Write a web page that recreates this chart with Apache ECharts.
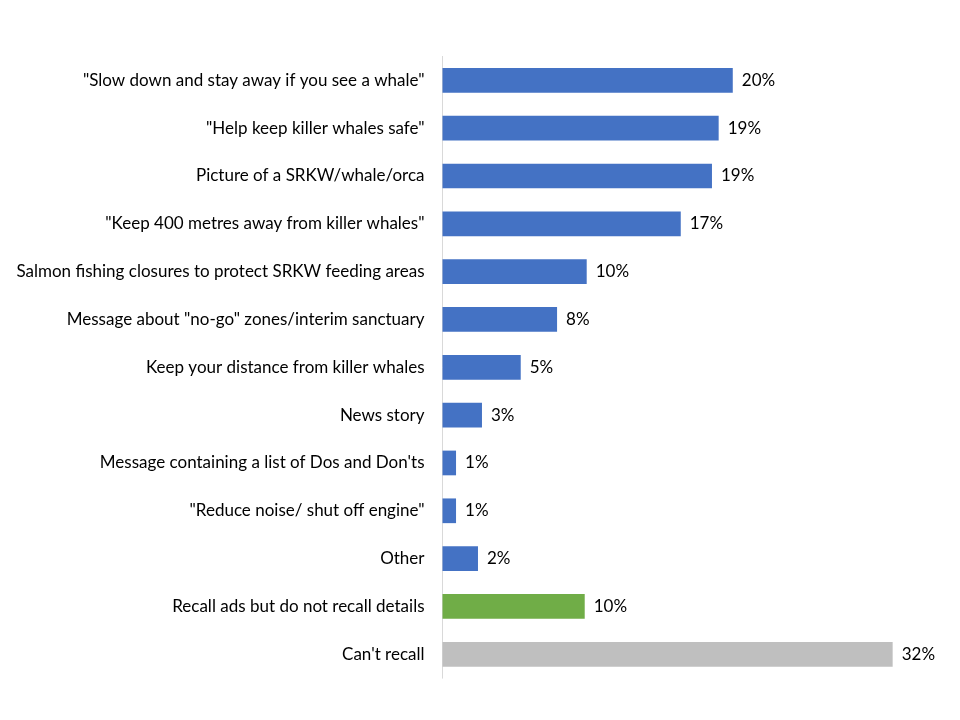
<!DOCTYPE html>
<html>
<head>
<meta charset="utf-8">
<script src="https://cdn.jsdelivr.net/npm/echarts@6/dist/echarts.min.js"></script>
<style>html,body{margin:0;padding:0;background:#fff}#c{width:960px;height:720px}</style>
</head>
<body>
<div id="c"></div>
<script>
var categories = [
  '"Slow down and stay away if you see a whale"',
  '"Help keep killer whales safe"',
  'Picture of a SRKW/whale/orca',
  '"Keep 400 metres away from killer whales"',
  'Salmon fishing closures to protect SRKW feeding areas',
  'Message about "no-go" zones/interim sanctuary',
  'Keep your distance from killer whales',
  'News story',
  'Message containing a list of Dos and Don\'ts',
  '"Reduce noise/ shut off engine"',
  'Other',
  'Recall ads but do not recall details',
  'Can\'t recall'
];
var values = [20.37, 19.38, 18.91, 16.72, 10.12, 8.04, 5.49, 2.77, 0.95, 0.95, 2.49, 9.98, 31.59];

var BLUE = '#4472C4', GREEN = '#70AD47', GRAY = '#BFBFBF';
var barColors = categories.map(function (c, i) {
  if (i === categories.length - 1) return GRAY;
  if (i === categories.length - 2) return GREEN;
  return BLUE;
});

var FONT = 'Lato';
var chart = echarts.init(document.getElementById('c'), null, {renderer: 'canvas'});
chart.setOption({
  animation: false,
  backgroundColor: '#fff',
  grid: {left: 442.5, top: 56.4, width: 484.5, height: 621.8, containLabel: false},
  xAxis: {
    type: 'value', min: 0, max: 34,
    show: false
  },
  yAxis: {
    type: 'category', data: categories, inverse: true,
    axisLine: {show: true, lineStyle: {color: '#D9D9D9', width: 1}},
    axisTick: {show: false},
    axisLabel: {color: '#000', fontSize: 17, fontFamily: FONT, margin: 18}
  },
  series: [{
    type: 'bar',
    data: values.map(function (v, i) { return {value: v, itemStyle: {color: barColors[i]}}; }),
    barWidth: 24.7,
    label: {
      show: true, position: 'right', distance: 9,
      color: '#000', fontSize: 17, fontFamily: FONT,
      formatter: function (p) { return Math.round(p.value) + '%'; }
    }
  }]
});
</script>
</body>
</html>
